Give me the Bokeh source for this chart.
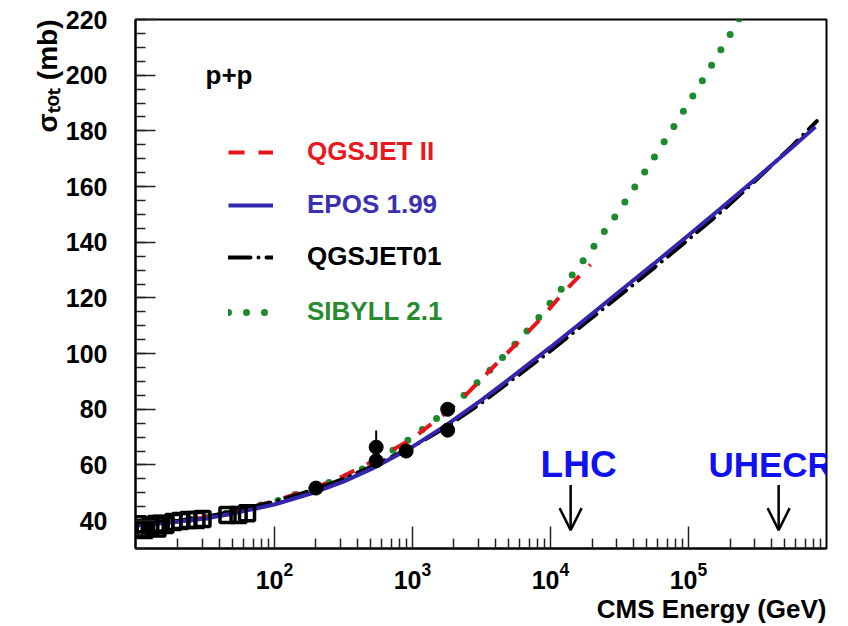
from bokeh.plotting import figure
from bokeh.models import (FixedTicker, Label, Legend, LegendItem, Title,
                          Arrow, OpenHead, ColumnDataSource)
from bokeh.embed import file_html
from bokeh.resources import INLINE

FONT = "Liberation Sans"

# ---------------- data ----------------
# model curves: log10(sqrt(s)/GeV) and sigma_tot (mb)
qgsjet2_loge = [1.0, 1.3, 1.5, 1.7, 2.0, 2.3, 2.5, 2.7, 3.0, 3.25, 3.4, 3.6, 3.78, 3.94, 4.09, 4.29]
qgsjet2_sigma = [38.5, 39.8, 41.2, 43.2, 47.0, 52.0, 56.0, 61.0, 69.5, 79.0, 85.8, 95.9, 104.8, 113.1, 121.7, 132.0]

epos_loge = [1.0, 1.3, 1.5, 1.7, 2.0, 2.3, 2.5, 2.7, 3.0, 3.25, 3.5, 3.75, 4.0, 4.25, 4.5, 4.75, 5.0, 5.25, 5.5, 5.75, 5.92]
epos_sigma = [38.3, 39.6, 40.8, 42.6, 45.8, 50.3, 54.0, 58.5, 66.5, 74.5, 83.3, 92.7, 102.3, 112.2, 122.3, 132.3, 142.5, 152.8, 163.3, 174.0, 181.5]

qgsjet01_loge = [1.0, 1.3, 1.5, 1.7, 2.0, 2.3, 2.5, 2.7, 3.0, 3.25, 3.5, 3.75, 4.0, 4.25, 4.5, 4.75, 5.0, 5.25, 5.5, 5.75, 5.93]
qgsjet01_sigma = [38.6, 40.0, 41.3, 43.3, 46.8, 51.3, 55.0, 59.3, 66.5, 73.8, 82.3, 91.6, 101.0, 110.9, 120.8, 130.8, 141.0, 151.5, 162.8, 174.5, 183.5]

sibyll_loge = [1.0, 1.5, 2.0, 2.5, 2.7, 3.0, 3.3, 3.5, 3.7, 3.9, 4.1, 4.3, 4.5, 4.7, 4.9, 5.1, 5.3, 5.4]
sibyll_sigma = [38.8, 41.0, 46.8, 55.5, 60.0, 70.0, 81.5, 91.0, 101.0, 112.0, 124.5, 137.5, 151.5, 166.5, 182.0, 198.0, 214.5, 223.0]

# measurements
square_energy = [10.3, 10.7, 11.5, 12.5, 13.8, 14.2, 15.0, 16.2, 18.5, 20.8, 23.8, 27.2, 30.1, 45.7, 55.0, 63.3]
square_sigma = [38.7, 37.3, 36.6, 37.7, 38.8, 37.2, 38.9, 38.4, 39.5, 39.9, 40.2, 40.2, 40.6, 42.0, 42.0, 42.7]

circle_energy = [200, 546, 546, 900, 1800, 1800]
circle_sigma = [51.7, 66.4, 61.5, 65.0, 80.0, 72.5]
circle_error = [1.2, 6.0, 1.0, 1.5, 2.2, 1.0]

# annotations
arrow_labels = ["LHC", "UHECR"]
arrow_energy = [1.4e4, 4.5e5]
arrow_tail = [52.8, 52.8]
arrow_tip = [36.6, 36.6]
arrow_label_sigma = 60.0

legend_labels = ["QGSJET II", "EPOS 1.99", "QGSJET01", "SIBYLL 2.1"]
x_major_ticks = [1e2, 1e3, 1e4, 1e5]
y_major_ticks = [40, 60, 80, 100, 120, 140, 160, 180, 200, 220]
x_title = "CMS Energy (GeV)"
y_title = "σₜₒₜ (mb)"

# ---------------- figure ----------------
x_minor_ticks = [m * 10 ** d for d in range(1, 6) for m in range(2, 10)]
y_minor_ticks = list(range(30, 221, 5))

p = figure(width=848, height=626, x_axis_type="log",
           x_range=(9.85, 1.0e6), y_range=(30, 220),
           output_backend="svg", toolbar_location=None,
           min_border_left=135, min_border_right=22,
           min_border_top=19, min_border_bottom=78)
p.xgrid.grid_line_color = None
p.ygrid.grid_line_color = None
p.outline_line_color = "black"
p.outline_line_width = 2
p.background_fill_color = "white"
p.border_fill_color = "white"

for ax in (p.xaxis[0], p.yaxis[0]):
    ax.axis_line_width = 2
    ax.axis_line_color = "black"
    ax.major_tick_out = 0
    ax.minor_tick_out = 0
    ax.major_tick_line_width = 1.5
    ax.minor_tick_line_width = 1.5
    ax.major_tick_line_color = "#222222"
    ax.minor_tick_line_color = "#222222"
    ax.major_label_text_font = FONT
    ax.major_label_text_font_style = "bold"
    ax.major_label_text_font_size = "25px"
    ax.major_label_text_color = "black"

p.xaxis.ticker = FixedTicker(ticks=x_major_ticks, minor_ticks=x_minor_ticks)
p.xaxis.major_tick_in = 22
p.xaxis.minor_tick_in = 10
p.xaxis.major_label_standoff = 13

p.yaxis.ticker = FixedTicker(ticks=y_major_ticks, minor_ticks=y_minor_ticks)
p.yaxis.major_tick_in = 20
p.yaxis.minor_tick_in = 10
p.yaxis.major_label_standoff = 28

# axis titles (aligned to the far end of each axis, as in the original)
p.add_layout(Title(text=x_title, align="right", text_font=FONT,
                   text_font_style="bold", text_font_size="26px",
                   text_color="black", standoff=0), "below")
p.add_layout(Title(text=y_title, align="right", text_font=FONT,
                   text_font_style="bold", text_font_size="28px",
                   text_color="black", standoff=0), "left")

def tolin(loge):
    return [10 ** v for v in loge]

r_sib = p.line(tolin(sibyll_loge), sibyll_sigma, line_color="#1d8a2e", line_width=7,
               line_dash="0 18", line_cap="round")
r_q2 = p.line(tolin(qgsjet2_loge), qgsjet2_sigma, line_color="#e8141c", line_width=4,
              line_dash="16 14")
r_q1 = p.line(tolin(qgsjet01_loge), qgsjet01_sigma, line_color="black", line_width=4,
              line_dash="22 8 0 8", line_cap="round")
r_epos = p.line(tolin(epos_loge), epos_sigma, line_color="#3226ae", line_width=4)

# data points
p.scatter(square_energy, square_sigma, marker="square", size=15,
          fill_color=None, line_color="black", line_width=3.5)
p.segment(circle_energy, [s - e for s, e in zip(circle_sigma, circle_error)],
          circle_energy, [s + e for s, e in zip(circle_sigma, circle_error)],
          line_color="black", line_width=2)
p.scatter(circle_energy, circle_sigma, marker="circle", size=14,
          fill_color="black", line_color="black")

# legend (one per entry so each label keeps its own colour)
legend_colors = ["#e8191e", "#3a30b0", "black", "#2a8a30"]
legend_centers = [152, 205, 257, 312]   # page y of each row
for rend, lab, col, yc in zip([r_q2, r_epos, r_q1, r_sib], legend_labels,
                              legend_colors, legend_centers):
    lg = Legend(items=[LegendItem(label=lab, renderers=[rend])],
                location=(93, 548 - yc - 15),
                label_text_font=FONT, label_text_font_style="bold",
                label_text_font_size="26px", label_text_color=col,
                label_text_baseline="middle",
                glyph_width=45, glyph_height=30, label_height=30,
                label_standoff=34, padding=0, margin=0, spacing=0,
                border_line_color=None, background_fill_alpha=0)
    p.add_layout(lg)

# arrows and labels
asrc = ColumnDataSource(dict(x=arrow_energy, y0=arrow_tail, y1=arrow_tip))
p.add_layout(Arrow(end=OpenHead(size=22, line_width=2.5, line_color="black"),
                   x_start="x", y_start="y0", x_end="x", y_end="y1",
                   source=asrc, line_width=2.5, line_color="black"))
p.add_layout(Label(x=arrow_energy[0], y=arrow_label_sigma, text=arrow_labels[0],
                   x_offset=8, text_align="center", text_baseline="alphabetic",
                   text_font=FONT, text_font_style="bold",
                   text_font_size="37px", text_color="#1010f0"))
p.add_layout(Label(x=arrow_energy[1], y=arrow_label_sigma, text=arrow_labels[1],
                   x_offset=-8, text_align="center", text_baseline="alphabetic",
                   text_font=FONT, text_font_style="bold",
                   text_font_size="35px", text_color="#1010f0"))

# p+p
p.add_layout(Label(x=70, y=474, x_units="screen", y_units="screen", text="p+p",
                   text_font=FONT, text_font_style="bold", text_font_size="26px",
                   text_color="black", text_baseline="alphabetic"))

open("out.html", "w").write(file_html(p, INLINE))
